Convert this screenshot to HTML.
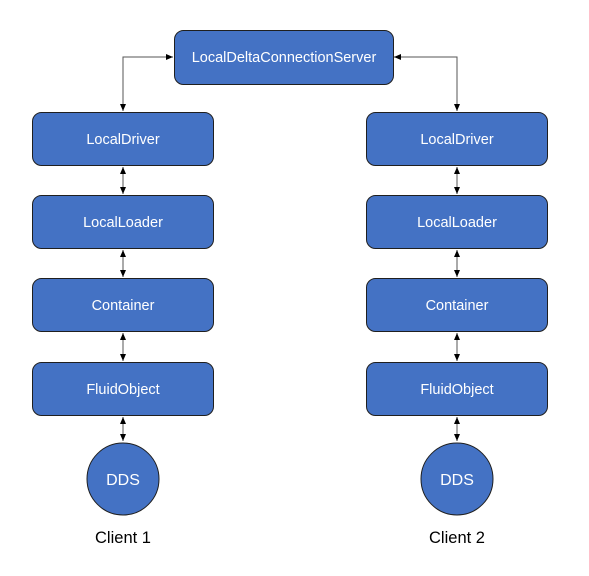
<!DOCTYPE html>
<html><head><style>body{margin:0;background:#fff}</style></head><body>
<svg width="589" height="571" xmlns="http://www.w3.org/2000/svg" font-family="Liberation Sans, sans-serif">
<defs>
<marker id="a" markerWidth="8" markerHeight="8" refX="7" refY="4" orient="auto-start-reverse" markerUnits="userSpaceOnUse"><path d="M0,1 L7,4 L0,7Z" fill="#000"/></marker>
</defs>
<g stroke="#555" stroke-width="1" fill="none" marker-start="url(#a)" marker-end="url(#a)">
<path d="M123,111 V57 H173"/>
<path d="M457,111 V57 H394"/>
<path d="M123,167 V194"/><path d="M123,250 V277"/><path d="M123,333 V361"/><path d="M123,417 V441"/>
<path d="M457,167 V194"/><path d="M457,250 V277"/><path d="M457,333 V361"/><path d="M457,417 V441"/>
</g>
<g fill="#4472c4" stroke="#1f1f1f" stroke-width="1">
<rect x="174.5" y="30.5" width="219" height="54" rx="9"/>
<rect x="32.5" y="112.5" width="181" height="53" rx="9"/>
<rect x="32.5" y="195.5" width="181" height="53" rx="9"/>
<rect x="32.5" y="278.5" width="181" height="53" rx="9"/>
<rect x="32.5" y="362.5" width="181" height="53" rx="9"/>
<rect x="366.5" y="112.5" width="181" height="53" rx="9"/>
<rect x="366.5" y="195.5" width="181" height="53" rx="9"/>
<rect x="366.5" y="278.5" width="181" height="53" rx="9"/>
<rect x="366.5" y="362.5" width="181" height="53" rx="9"/>
<circle cx="123" cy="479" r="36"/>
<circle cx="457" cy="479" r="36"/>
</g>
<g fill="#fff" font-size="14.5" text-anchor="middle">
<text x="284" y="62">LocalDeltaConnectionServer</text>
<text x="123" y="144">LocalDriver</text>
<text x="123" y="227">LocalLoader</text>
<text x="123" y="310">Container</text>
<text x="123" y="394">FluidObject</text>
<text x="457" y="144">LocalDriver</text>
<text x="457" y="227">LocalLoader</text>
<text x="457" y="310">Container</text>
<text x="457" y="394">FluidObject</text>
<text x="123" y="485" font-size="16">DDS</text>
<text x="457" y="485" font-size="16">DDS</text>
</g>
<g fill="#000" font-size="16.5" text-anchor="middle">
<text x="123" y="543">Client 1</text>
<text x="457" y="543">Client 2</text>
</g>
</svg>
</body></html>
